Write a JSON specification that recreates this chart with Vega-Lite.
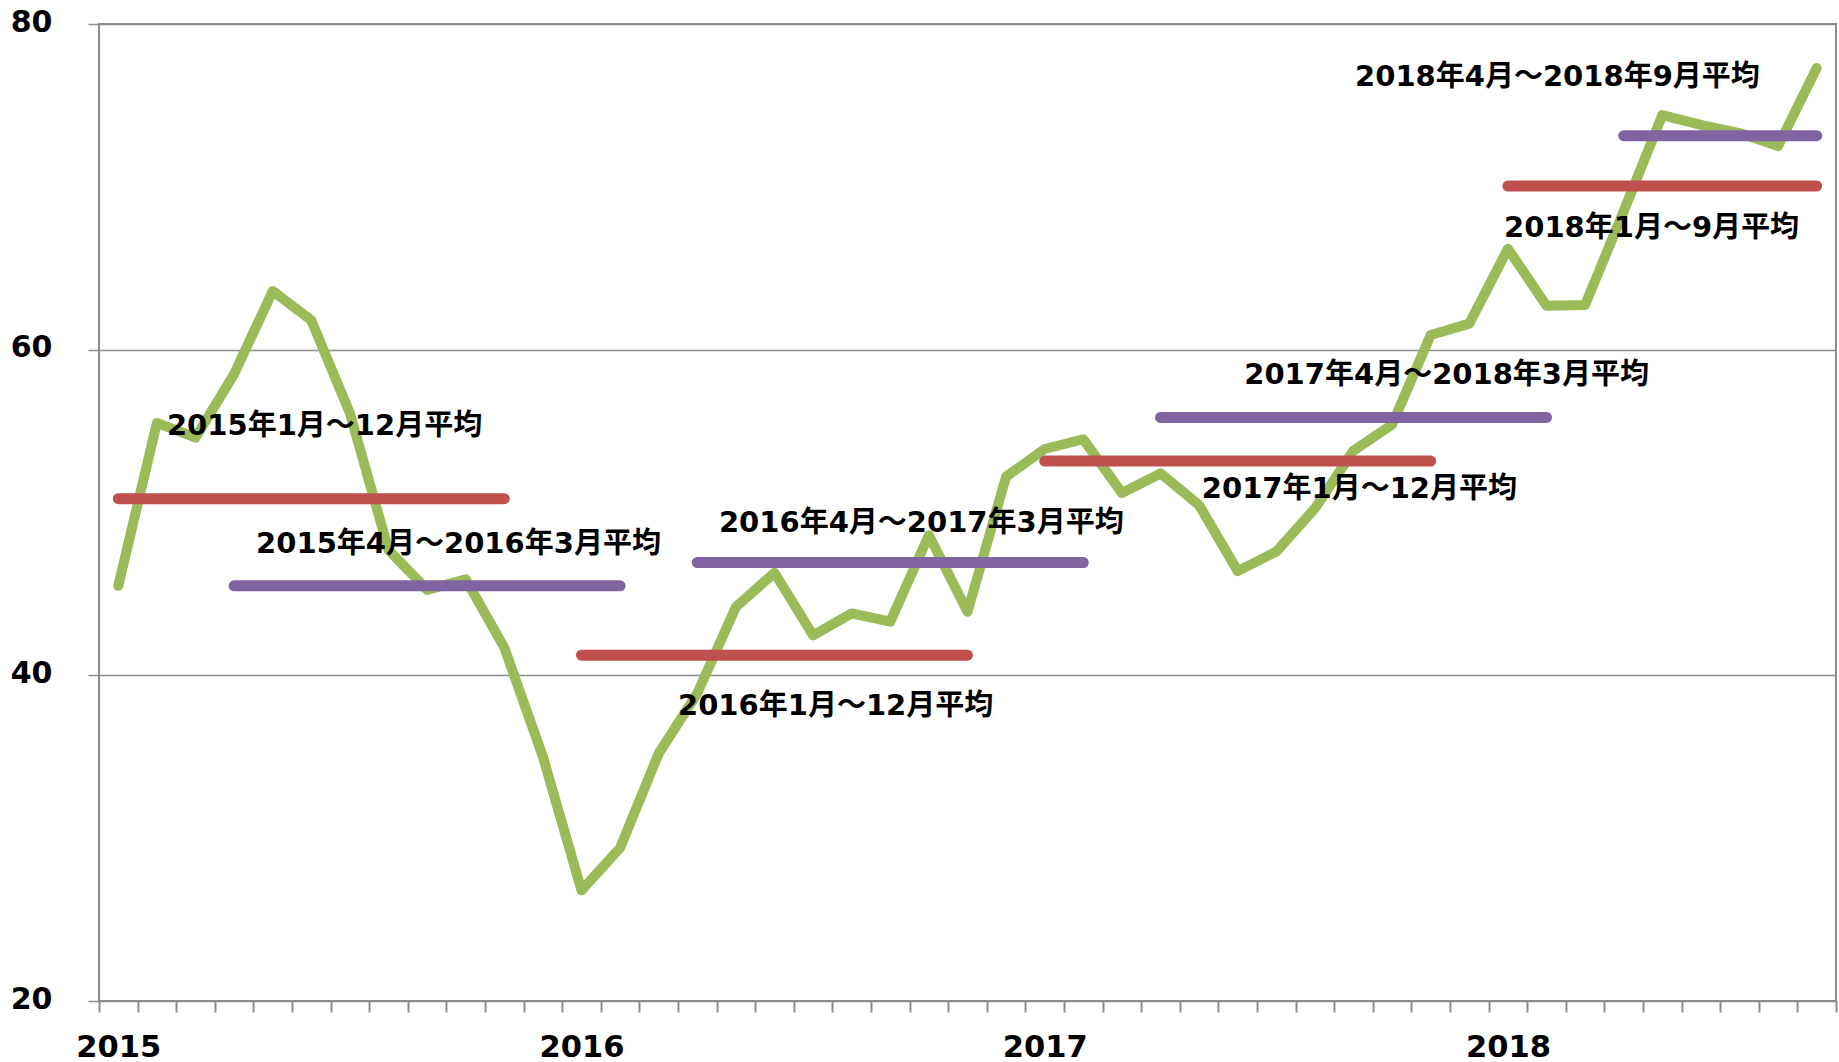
{
  "$schema": "https://vega.github.io/schema/vega-lite/v6.json",
  "width": 1737,
  "height": 977,
  "autosize": {"type": "none"},
  "padding": {"left": 99, "top": 24, "right": 3, "bottom": 61},
  "background": "white",
  "config": {
    "view": {"stroke": "#8c8c8c", "strokeWidth": 2},
    "font": "DejaVu Sans, Noto Sans CJK JP"
  },
  "datasets": {
    "monthly": [
      {"i": 0, "month": "2015-01", "v": 45.5},
      {"i": 1, "month": "2015-02", "v": 55.5},
      {"i": 2, "month": "2015-03", "v": 54.6},
      {"i": 3, "month": "2015-04", "v": 58.5},
      {"i": 4, "month": "2015-05", "v": 63.6},
      {"i": 5, "month": "2015-06", "v": 61.8},
      {"i": 6, "month": "2015-07", "v": 56.1},
      {"i": 7, "month": "2015-08", "v": 47.7},
      {"i": 8, "month": "2015-09", "v": 45.25},
      {"i": 9, "month": "2015-10", "v": 45.9},
      {"i": 10, "month": "2015-11", "v": 41.7},
      {"i": 11, "month": "2015-12", "v": 35.0},
      {"i": 12, "month": "2016-01", "v": 26.8},
      {"i": 13, "month": "2016-02", "v": 29.4},
      {"i": 14, "month": "2016-03", "v": 35.2},
      {"i": 15, "month": "2016-04", "v": 38.9},
      {"i": 16, "month": "2016-05", "v": 44.2},
      {"i": 17, "month": "2016-06", "v": 46.3},
      {"i": 18, "month": "2016-07", "v": 42.45},
      {"i": 19, "month": "2016-08", "v": 43.8},
      {"i": 20, "month": "2016-09", "v": 43.3},
      {"i": 21, "month": "2016-10", "v": 48.6},
      {"i": 22, "month": "2016-11", "v": 43.9},
      {"i": 23, "month": "2016-12", "v": 52.2},
      {"i": 24, "month": "2017-01", "v": 53.9},
      {"i": 25, "month": "2017-02", "v": 54.5},
      {"i": 26, "month": "2017-03", "v": 51.2},
      {"i": 27, "month": "2017-04", "v": 52.4},
      {"i": 28, "month": "2017-05", "v": 50.45},
      {"i": 29, "month": "2017-06", "v": 46.4},
      {"i": 30, "month": "2017-07", "v": 47.6},
      {"i": 31, "month": "2017-08", "v": 50.25},
      {"i": 32, "month": "2017-09", "v": 53.8},
      {"i": 33, "month": "2017-10", "v": 55.4},
      {"i": 34, "month": "2017-11", "v": 60.9},
      {"i": 35, "month": "2017-12", "v": 61.6},
      {"i": 36, "month": "2018-01", "v": 66.2},
      {"i": 37, "month": "2018-02", "v": 62.7},
      {"i": 38, "month": "2018-03", "v": 62.75},
      {"i": 39, "month": "2018-04", "v": 68.5},
      {"i": 40, "month": "2018-05", "v": 74.4},
      {"i": 41, "month": "2018-06", "v": 73.8},
      {"i": 42, "month": "2018-07", "v": 73.3},
      {"i": 43, "month": "2018-08", "v": 72.5},
      {"i": 44, "month": "2018-09", "v": 77.3}
    ],
    "averages": [
      {"period": "2015年1月～12月", "kind": "暦年", "start": 0, "end": 10, "avg": 50.85},
      {"period": "2015年4月～2016年3月", "kind": "年度", "start": 3, "end": 13, "avg": 45.5},
      {"period": "2016年1月～12月", "kind": "暦年", "start": 12, "end": 22, "avg": 41.24},
      {"period": "2016年4月～2017年3月", "kind": "年度", "start": 15, "end": 25, "avg": 46.93},
      {"period": "2017年1月～12月", "kind": "暦年", "start": 24, "end": 34, "avg": 53.16},
      {"period": "2017年4月～2018年3月", "kind": "年度", "start": 27, "end": 37, "avg": 55.84},
      {"period": "2018年1月～9月", "kind": "暦年", "start": 36, "end": 44, "avg": 70.05},
      {"period": "2018年4月～2018年9月", "kind": "年度", "start": 39, "end": 44, "avg": 73.14}
    ],
    "labels": [
      {"text": "2015年1月～12月平均", "tx": 1.26, "ty": 55.34},
      {"text": "2015年4月～2016年3月平均", "tx": 3.57, "ty": 48.08},
      {"text": "2016年1月～12月平均", "tx": 14.5, "ty": 38.11},
      {"text": "2016年4月～2017年3月平均", "tx": 15.56, "ty": 49.38},
      {"text": "2017年1月～12月平均", "tx": 28.07, "ty": 51.44},
      {"text": "2017年4月～2018年3月平均", "tx": 29.17, "ty": 58.42},
      {"text": "2018年1月～9月平均", "tx": 35.9, "ty": 67.47},
      {"text": "2018年4月～2018年9月平均", "tx": 32.04, "ty": 76.74}
    ]
  },
  "layer": [
    {
      "data": {"name": "monthly"},
      "mark": {"type": "line", "color": "#9BBB59", "strokeWidth": 10, "strokeCap": "round", "strokeJoin": "round"},
      "encoding": {
        "x": {
          "field": "i", "type": "quantitative",
          "scale": {"domain": [-0.5, 44.5], "nice": false, "zero": false},
          "axis": {
            "title": null,
            "values": [-0.5, 0.5, 1.5, 2.5, 3.5, 4.5, 5.5, 6.5, 7.5, 8.5, 9.5, 10.5, 11.5, 12.5, 13.5, 14.5, 15.5, 16.5, 17.5, 18.5, 19.5, 20.5, 21.5, 22.5, 23.5, 24.5, 25.5, 26.5, 27.5, 28.5, 29.5, 30.5, 31.5, 32.5, 33.5, 34.5, 35.5, 36.5, 37.5, 38.5, 39.5, 40.5, 41.5, 42.5, 43.5, 44.5],
            "tickCount": 200,
            "labelExpr": "datum.value == -0.5 ? '2015' : datum.value == 11.5 ? '2016' : datum.value == 23.5 ? '2017' : datum.value == 35.5 ? '2018' : ''",
            "labelOffset": 19.3,
            "labelFlush": false,
            "labelOverlap": false,
            "labelBound": false,
            "labelFont": "DejaVu Sans",
            "labelFontWeight": "bold",
            "labelFontSize": 30.5,
            "labelColor": "#000000",
            "labelPadding": 20,
            "labelBaseline": "top",
            "tickSize": 11,
            "tickColor": "#8c8c8c",
            "tickWidth": 2,
            "tickRound": true,
            "domain": false,
            "grid": false
          }
        },
        "y": {
          "field": "v", "type": "quantitative",
          "scale": {"domain": [20, 80], "nice": false, "zero": false},
          "axis": {
            "title": null,
            "values": [20, 40, 60, 80],
            "grid": true,
            "gridColor": "#8c8c8c",
            "gridWidth": 1.5,
            "tickSize": 11,
            "tickColor": "#8c8c8c",
            "tickWidth": 1.5,
            "domain": false,
            "labelFont": "DejaVu Sans",
            "labelFontWeight": "bold",
            "labelFontSize": 30,
            "labelColor": "#000000",
            "labelPadding": 36,
            "labelBaseline": "middle",
            "labelOffset": -2
          }
        }
      }
    },
    {
      "data": {"name": "averages"},
      "mark": {"type": "rule", "strokeWidth": 11, "strokeCap": "round"},
      "encoding": {
        "x": {"field": "start", "type": "quantitative"},
        "x2": {"field": "end"},
        "y": {"field": "avg", "type": "quantitative"},
        "color": {
          "field": "kind", "type": "nominal",
          "scale": {"domain": ["暦年", "年度"], "range": ["#C0504D", "#8064A2"]},
          "legend": null
        }
      }
    },
    {
      "data": {"name": "labels"},
      "mark": {"type": "text", "align": "left", "baseline": "middle", "fontSize": 29, "fontWeight": "bold", "font": "DejaVu Sans, Noto Sans CJK JP", "color": "#000000"},
      "encoding": {
        "x": {"field": "tx", "type": "quantitative"},
        "y": {"field": "ty", "type": "quantitative"},
        "text": {"field": "text"}
      }
    }
  ]
}
